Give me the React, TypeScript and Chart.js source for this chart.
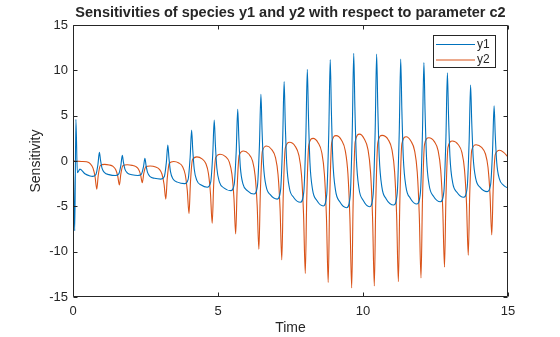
import { useEffect, useRef } from 'react';
import { Chart, registerables } from 'chart.js';

Chart.register(...registerables);

const chartTitle = 'Sensitivities of species y1 and y2 with respect to parameter c2';
const xLabel = 'Time';
const yLabel = 'Sensitivity';
const seriesNames = ['y1', 'y2'];
const seriesColors = ['#0072BD', '#D95319'];
const xTicks = [0, 5, 10, 15];
const yTicks = [-15, -10, -5, 0, 5, 10, 15];

// y1 (blue) — time and value readings
const t1 = [
  0, 0.02, 0.06, 0.10, 0.15, 0.24, 0.41, 0.59,
  0.67, 0.79, 0.86, 0.91, 0.95, 1.00, 1.09, 1.24,
  1.46, 1.58, 1.65, 1.70, 1.74, 1.79, 1.88, 2.03,
  2.24, 2.36, 2.43, 2.48, 2.52, 2.57, 2.66, 2.81,
  3.03, 3.15, 3.22, 3.27, 3.31, 3.36, 3.45, 3.60,
  3.85, 3.97, 4.04, 4.09, 4.13, 4.18, 4.27, 4.42,
  4.63, 4.75, 4.82, 4.87, 4.91, 4.96, 5.05, 5.20,
  5.44, 5.56, 5.63, 5.68, 5.72, 5.77, 5.86, 6.01,
  6.24, 6.36, 6.43, 6.48, 6.52, 6.57, 6.66, 6.81,
  7.04, 7.16, 7.23, 7.28, 7.32, 7.37, 7.46, 7.61,
  7.84, 7.96, 8.03, 8.08, 8.12, 8.17, 8.26, 8.41,
  8.63, 8.75, 8.82, 8.87, 8.91, 8.96, 9.05, 9.20,
  9.44, 9.56, 9.63, 9.68, 9.72, 9.77, 9.86, 10.01,
  10.23, 10.35, 10.42, 10.47, 10.51, 10.56, 10.65, 10.80,
  11.06, 11.18, 11.25, 11.30, 11.34, 11.39, 11.48, 11.63,
  11.86, 11.98, 12.05, 12.10, 12.14, 12.19, 12.28, 12.43,
  12.67, 12.79, 12.86, 12.91, 12.95, 13.00, 13.09, 13.24,
  13.47, 13.59, 13.66, 13.71, 13.75, 13.80, 13.89, 14.04,
  14.28, 14.40, 14.47, 14.52, 14.56, 14.61, 14.70, 14.85, 15.00,
];
const v1 = [
  0, -1.8, -7.7, 4.6, -1.3, -0.9, -1.4, -1.65,
  -1.70, -1.49, -0.37, 0.96, 0.06, -0.78, -1.29, -1.50,
  -1.60, -1.42, -0.49, 0.62, -0.16, -0.89, -1.33, -1.51,
  -1.60, -1.45, -0.65, 0.30, -0.51, -1.26, -1.72, -1.91,
  -2.00, -1.70, -0.12, 1.76, 0.27, -1.14, -1.99, -2.33,
  -2.50, -2.03, 0.46, 3.42, 1.21, -0.88, -2.14, -2.65,
  -2.90, -2.31, 0.81, 4.52, 1.79, -0.78, -2.34, -2.96,
  -3.27, -2.55, 1.22, 5.70, 2.43, -0.65, -2.52, -3.27,
  -3.64, -2.76, 1.86, 7.35, 3.31, -0.50, -2.81, -3.74,
  -4.20, -3.16, 2.28, 8.75, 4.10, -0.29, -2.95, -4.02,
  -4.55, -3.38, 2.78, 10.10, 4.83, -0.14, -3.15, -4.36,
  -4.96, -3.67, 3.12, 11.20, 5.48, 0.08, -3.19, -4.50,
  -5.15, -3.79, 3.36, 11.87, 5.95, 0.37, -3.01, -4.36,
  -5.04, -3.69, 3.38, 11.80, 5.97, 0.48, -2.85, -4.18,
  -4.85, -3.56, 3.20, 11.25, 5.65, 0.38, -2.82, -4.10,
  -4.74, -3.49, 3.06, 10.85, 5.48, 0.42, -2.65, -3.88,
  -4.49, -3.35, 2.63, 9.74, 4.93, 0.40, -2.35, -3.45,
  -4.00, -3.01, 2.19, 8.38, 4.26, 0.38, -1.97, -2.91,
  -3.38, -2.62, 1.36, 6.10, 2.90, -0.12, -1.95, -2.68, -3.00,
];

// y2 (orange) — time and value readings
const t2 = [
  0, 0.30, 0.47, 0.60, 0.69, 0.76,
  0.82, 0.87, 0.94, 1.09, 1.25, 1.38, 1.47, 1.54,
  1.60, 1.65, 1.72, 1.87, 2.04, 2.17, 2.26, 2.33,
  2.39, 2.44, 2.51, 2.66, 2.85, 2.98, 3.07, 3.14,
  3.20, 3.25, 3.32, 3.47, 3.65, 3.78, 3.87, 3.94,
  4.00, 4.05, 4.12, 4.27, 4.45, 4.58, 4.67, 4.74,
  4.80, 4.85, 4.92, 5.07, 5.26, 5.39, 5.48, 5.55,
  5.61, 5.66, 5.73, 5.88, 6.06, 6.19, 6.28, 6.35,
  6.41, 6.46, 6.53, 6.68, 6.85, 6.98, 7.07, 7.14,
  7.20, 7.25, 7.32, 7.47, 7.66, 7.79, 7.88, 7.95,
  8.01, 8.06, 8.13, 8.28, 8.45, 8.58, 8.67, 8.74,
  8.80, 8.85, 8.92, 9.07, 9.26, 9.39, 9.48, 9.55,
  9.61, 9.66, 9.73, 9.88, 10.04, 10.17, 10.26, 10.33,
  10.39, 10.44, 10.51, 10.66, 10.87, 11.00, 11.09, 11.16,
  11.22, 11.27, 11.34, 11.49, 11.65, 11.78, 11.87, 11.94,
  12.00, 12.05, 12.12, 12.27, 12.46, 12.59, 12.68, 12.75,
  12.81, 12.86, 12.93, 13.08, 13.28, 13.41, 13.50, 13.57,
  13.63, 13.68, 13.75, 13.90, 14.09, 14.22, 14.31, 14.38,
  14.44, 14.49, 14.56, 14.71, 14.85, 15.00,
];
const v2 = [
  0.00, -0.05, -0.09, -0.31, -0.78, -1.71,
  -3.10, -1.60, -0.51, -0.37, -0.44, -0.60, -0.94, -1.62,
  -2.65, -1.42, -0.53, -0.42, -0.48, -0.62, -0.92, -1.51,
  -2.40, -1.38, -0.64, -0.55, -0.66, -0.92, -1.46, -2.56,
  -4.20, -1.92, -0.26, -0.05, -0.22, -0.63, -1.49, -3.21,
  -5.80, -2.36, 0.14, 0.45, 0.23, -0.28, -1.38, -3.58,
  -6.87, -2.68, 0.37, 0.75, 0.49, -0.13, -1.45, -4.09,
  -8.05, -3.02, 0.64, 1.10, 0.77, 0.02, -1.61, -4.86,
  -9.74, -3.48, 1.08, 1.65, 1.27, 0.40, -1.49, -5.25,
  -10.90, -3.77, 1.41, 2.06, 1.63, 0.61, -1.56, -5.89,
  -12.40, -4.21, 1.75, 2.50, 2.02, 0.91, -1.48, -6.25,
  -13.40, -4.49, 1.99, 2.80, 2.30, 1.12, -1.40, -6.44,
  -14.00, -4.67, 2.11, 2.96, 2.46, 1.29, -1.23, -6.25,
  -13.78, -4.64, 2.00, 2.83, 2.35, 1.22, -1.20, -6.04,
  -13.30, -4.51, 1.88, 2.68, 2.21, 1.12, -1.22, -5.89,
  -12.90, -4.39, 1.80, 2.57, 2.14, 1.14, -0.99, -5.28,
  -11.70, -4.06, 1.50, 2.20, 1.82, 0.94, -0.95, -4.73,
  -10.40, -3.69, 1.19, 1.80, 1.50, 0.80, -0.69, -3.68,
  -8.16, -3.02, 0.71, 1.18, 0.95, 0.45,
];

const INK = '#262626';
const FONT = '"Liberation Sans", Arial, Helvetica, sans-serif';

export default function App() {
  const ref = useRef<HTMLCanvasElement>(null);

  useEffect(() => {
    document.body.style.margin = '0';
    const canvas = ref.current;
    if (!canvas) return;

    const deco = {
      id: 'deco',
      afterDraw(chart: any) {
        const c = chart.ctx as CanvasRenderingContext2D;
        const a = chart.chartArea;
        const xs = chart.scales.x;
        const ys = chart.scales.y;
        c.save();
        c.strokeStyle = INK;
        c.lineWidth = 1;
        const L = Math.round(a.left) + 0.5;
        const R = Math.round(a.right) - 0.5;
        const T = Math.round(a.top) + 0.5;
        const B = Math.round(a.bottom) - 0.5;
        c.beginPath();
        c.rect(L, T, R - L, B - T);
        const tl = 4;
        xTicks.forEach((v) => {
          const px = Math.round(xs.getPixelForValue(v)) + 0.5;
          c.moveTo(px, B); c.lineTo(px, B - tl);
          c.moveTo(px, T); c.lineTo(px, T + tl);
        });
        yTicks.forEach((v) => {
          const py = Math.round(ys.getPixelForValue(v)) + 0.5;
          c.moveTo(L, py); c.lineTo(L + tl, py);
          c.moveTo(R, py); c.lineTo(R - tl, py);
        });
        c.stroke();

        // title
        c.fillStyle = INK;
        c.textAlign = 'center';
        c.textBaseline = 'middle';
        c.font = `bold 14.5px ${FONT}`;
        c.fillText(chartTitle, (a.left + a.right) / 2, 13);
        // axis labels
        c.font = `14px ${FONT}`;
        c.fillText(xLabel, (a.left + a.right) / 2, 328);
        c.save();
        c.translate(36, (a.top + a.bottom) / 2);
        c.rotate(-Math.PI / 2);
        c.fillText(yLabel, 0, 0);
        c.restore();

        // legend
        const lx = 433.5, ly = 35.5, lw = 62, lh = 32;
        c.fillStyle = '#ffffff';
        c.fillRect(lx, ly, lw, lh);
        c.strokeStyle = INK;
        c.strokeRect(lx, ly, lw, lh);
        c.font = `12px ${FONT}`;
        c.textAlign = 'left';
        seriesNames.forEach((name, i) => {
          const ry = 44.5 + i * 15.5;
          c.strokeStyle = seriesColors[i];
          c.beginPath();
          c.moveTo(436, ry);
          c.lineTo(475, ry);
          c.stroke();
          c.fillStyle = INK;
          c.fillText(name, 477, ry);
        });
        c.restore();
      },
    };

    const chart = new Chart(canvas, {
      type: 'line',
      data: {
        datasets: [
          {
            label: seriesNames[0],
            data: t1.map((t, i) => ({ x: t, y: v1[i] })),
            borderColor: seriesColors[0],
            borderWidth: 1.1,
            pointRadius: 0,
            fill: false,
            cubicInterpolationMode: 'monotone',
          },
          {
            label: seriesNames[1],
            data: t2.map((t, i) => ({ x: t, y: v2[i] })),
            borderColor: seriesColors[1],
            borderWidth: 1.1,
            pointRadius: 0,
            fill: false,
            cubicInterpolationMode: 'monotone',
          },
        ],
      },
      options: {
        animation: false,
        responsive: true,
        maintainAspectRatio: false,
        devicePixelRatio: 1,
        layout: { padding: { left: 0, right: 52, top: 25, bottom: 0 } },
        plugins: {
          legend: { display: false },
          title: { display: false },
          tooltip: { enabled: false },
        },
        scales: {
          x: {
            type: 'linear',
            min: 0,
            max: 15,
            afterFit: (s: any) => { s.height = 40; },
            afterBuildTicks: (s: any) => { s.ticks = xTicks.map((v) => ({ value: v })); },
            grid: { display: false, drawTicks: false },
            border: { display: false },
            ticks: { color: INK, font: { family: FONT, size: 13 }, padding: 7, maxRotation: 0 },
          },
          y: {
            type: 'linear',
            min: -15,
            max: 15,
            afterFit: (s: any) => { s.width = 73; },
            afterBuildTicks: (s: any) => { s.ticks = yTicks.map((v) => ({ value: v })); },
            grid: { display: false, drawTicks: false },
            border: { display: false },
            ticks: { color: INK, font: { family: FONT, size: 13 }, padding: 5 },
          },
        },
      },
      plugins: [deco],
    });

    return () => chart.destroy();
  }, []);

  return (
    <div style={{ position: 'relative', width: 560, height: 337 }}>
      <canvas ref={ref} />
    </div>
  );
}
